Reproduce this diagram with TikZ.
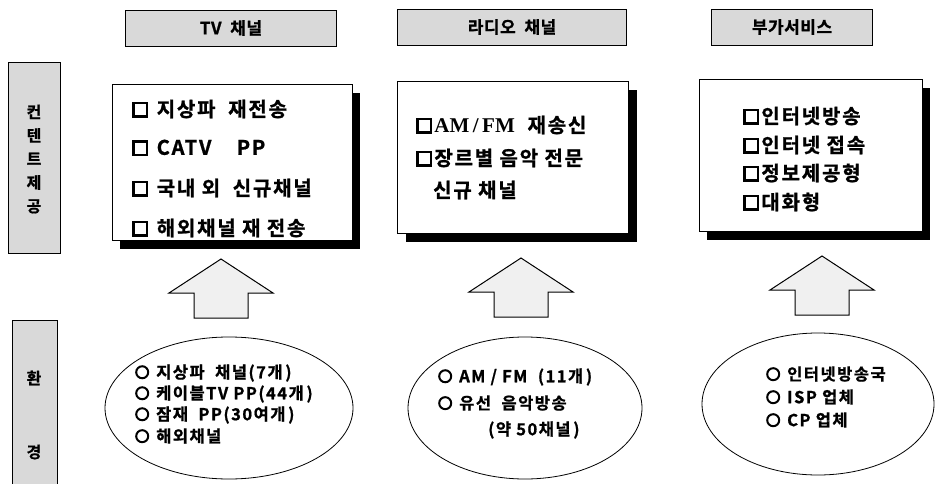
\documentclass[tikz,border=0pt]{standalone}
\usepackage{fontspec}
\usetikzlibrary{shapes.geometric,shadows}
\newfontfamily\kr{Noto Sans CJK KR Bold}[LetterSpace=3, FakeBold=1]
\newfontfamily\krw{Noto Sans CJK KR Bold}[LetterSpace=9, FakeBold=1]
\newfontfamily\tms{Liberation Serif}
\newcommand{\sqb}{\raisebox{0.1ex}{\setlength{\fboxrule}{2.6pt}\setlength{\fboxsep}{0pt}\fbox{\rule{0pt}{11pt}\rule{11pt}{0pt}}}\hspace{2pt}}
\newcommand{\cir}{\tikz[baseline=-6pt, x=1pt, y=1pt]\draw[line width=2pt] (0,0) circle[radius=6pt];\hspace{7pt}}
\begin{document}
\begin{tikzpicture}[x=1pt,y=-1pt,
  hdr/.style={draw=black, line width=0.8pt, fill=black!15, inner sep=0pt,
    font=\kr\fontsize{17}{17}\selectfont},
  side/.style={draw=black, line width=0.8pt, fill=black!15, inner sep=0pt},
  sidetxt/.style={font=\kr\fontsize{16}{23.5}\selectfont, align=center, inner sep=0pt},
  cbox/.style={draw=black, line width=0.8pt, fill=white, inner sep=0pt,
    drop shadow={shadow xshift=8pt, shadow yshift=-9pt, fill=black, opacity=1}},
  itm/.style={anchor=west, inner sep=0pt, font=\krw\fontsize{20}{20}\selectfont},
  env/.style={draw=black, line width=0.8pt, ellipse, inner sep=0pt},
  eitm/.style={anchor=west, inner sep=0pt, font=\krw\fontsize{16.5}{16.5}\selectfont},
  blk/.style={draw=black, line width=1pt, fill=black!6, line join=miter}
]
\path[use as bounding box] (0,0) rectangle (936,484);

% headers
\node[hdr, minimum width=211, minimum height=36] (htv) at (231,28) {TV\ \ 채널};
\node[hdr, minimum width=229, minimum height=36] (hra) at (512,27) {라디오\ \ 채널};
\node[hdr, minimum width=161, minimum height=36] (hsv) at (792,27) {부가서비스};

% side labels
\node[side, minimum width=52, minimum height=191] (sc) at (34,158) {};
\node[sidetxt] (sct) at (34,159) {컨\\텐\\트\\제\\공};
\fill[black!15] (12,320) rectangle (57,484);
\draw[line width=0.8pt] (12,484) -- (12,320) -- (57,320) -- (57,484);
\node[sidetxt] (se1) at (34,378) {환};
\node[sidetxt] (se2) at (34,452) {경};

% content boxes
\node[cbox, minimum width=240, minimum height=156] (btv) at (232,162) {};
\node[itm] (t1) at (132,109) {\sqb\ 지상파\ \ 재전송};
\node[itm] (t2) at (132,148) {\sqb\ CATV\ \ \ \ PP};
\node[itm] (t3) at (132,188) {\sqb\ 국내\ 외\ \ 신규채널};
\node[itm] (t4) at (132,228) {\sqb\ 해외채널\ 재\ 전송};

\node[cbox, minimum width=231, minimum height=152] (bra) at (513,157) {};
\node[itm] (r1) at (416,125) {\sqb{\tms\bfseries\fontsize{21}{21}\selectfont AM\,/\,FM}\ \ 재송신};
\node[itm] (r2) at (416,158) {\sqb 장르별\ 음악\ 전문};
\node[itm] (r3) at (433,190) {신규\ 채널};

\node[cbox, minimum width=223, minimum height=152] (bsv) at (810.5,155) {};
\node[itm] (s1) at (743,116) {\sqb 인터넷방송};
\node[itm] (s2) at (743,145) {\sqb 인터넷\ 접속};
\node[itm] (s3) at (743,173) {\sqb 정보제공형};
\node[itm] (s4) at (743,202) {\sqb 대화형};

% block arrows
\newcommand{\blkarrow}[3]{%
  \draw[blk] (#1,#2) -- (#1+52,#2+34) -- (#1+27,#2+34) -- (#1+27,#2+59)
    -- (#1-27,#2+59) -- (#1-27,#2+34) -- (#1-52,#2+34) -- cycle;
  \coordinate (#3) at (#1,#2);}
\blkarrow{221}{259}{atv}
\blkarrow{521}{258}{ara}
\blkarrow{822}{256}{asv}

% environment ellipses
\node[env, minimum width=248, minimum height=142] (etv) at (229,408) {};
\node[eitm] (e1) at (135,373) {\cir 지상파\ \ 채널(7개\,)};
\node[eitm] (e2) at (135,394) {\cir 케이블TV\ PP(44개\,)};
\node[eitm] (e3) at (135,415) {\cir 잠재\ \ PP(30여개\,)};
\node[eitm] (e4) at (135,436) {\cir 해외채널};

\node[env, minimum width=234, minimum height=142] (era) at (525,408) {};
\node[eitm] (f1) at (438,377) {\cir AM\ /\ FM\ \ (11개\,)};
\node[eitm] (f2) at (438,403) {\cir 유선\ \ 음악방송};
\node[eitm] (f3) at (488,430) {(약\ 50채널\,)};

\node[env, minimum width=232, minimum height=142] (esv) at (818,404) {};
\node[eitm] (g1) at (766,374) {\cir 인터넷방송국};
\node[eitm] (g2) at (766,397) {\cir ISP\ 업체};
\node[eitm] (g3) at (766,420) {\cir CP\ 업체};
\end{tikzpicture}
\end{document}
